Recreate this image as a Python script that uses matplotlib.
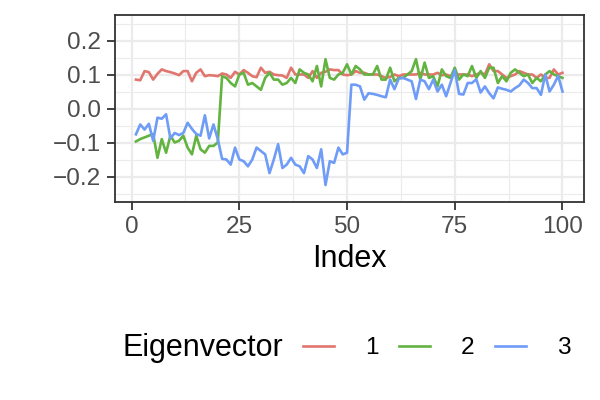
import numpy as np
import matplotlib
matplotlib.use("Agg")
import matplotlib.pyplot as plt
from matplotlib.lines import Line2D

plt.rcParams['font.family'] = ['Liberation Sans', 'DejaVu Sans']

index = np.arange(1, 101)

ev1 = [0.085, 0.083, 0.110, 0.107, 0.085, 0.102, 0.115, 0.110, 0.107, 0.103,
       0.098, 0.110, 0.110, 0.080, 0.105, 0.115, 0.095, 0.098, 0.097, 0.095,
       0.103, 0.100, 0.090, 0.108, 0.100, 0.113, 0.105, 0.095, 0.092, 0.120,
       0.105, 0.108, 0.100, 0.098, 0.097, 0.090, 0.120, 0.100, 0.100, 0.100,
       0.090, 0.110, 0.090, 0.105, 0.108, 0.115, 0.113, 0.113, 0.100, 0.098,
       0.100, 0.110, 0.105, 0.105, 0.100, 0.100, 0.100, 0.095, 0.090, 0.093,
       0.100, 0.095, 0.100, 0.100, 0.100, 0.100, 0.105, 0.100, 0.100, 0.100,
       0.105, 0.098, 0.100, 0.095, 0.100, 0.100, 0.100, 0.100, 0.095, 0.100,
       0.105, 0.100, 0.130, 0.110, 0.110, 0.100, 0.090, 0.095, 0.100, 0.110,
       0.105, 0.100, 0.100, 0.090, 0.100, 0.090, 0.090, 0.115, 0.100, 0.105]

ev2 = [-0.097, -0.090, -0.085, -0.080, -0.075, -0.145, -0.090, -0.130, -0.080, -0.100,
       -0.095, -0.080, -0.115, -0.135, -0.080, -0.120, -0.130, -0.110, -0.110, -0.100,
       0.095, 0.090, 0.075, 0.065, 0.100, 0.105, 0.070, 0.075, 0.065, 0.055,
       0.090, 0.105, 0.085, 0.085, 0.070, 0.075, 0.090, 0.075, 0.115, 0.105,
       0.100, 0.080, 0.125, 0.065, 0.145, 0.090, 0.085, 0.100, 0.105, 0.130,
       0.100, 0.125, 0.115, 0.100, 0.100, 0.100, 0.125, 0.085, 0.085, 0.120,
       0.080, 0.090, 0.090, 0.100, 0.110, 0.145, 0.085, 0.135, 0.090, 0.095,
       0.065, 0.115, 0.095, 0.090, 0.120, 0.085, 0.100, 0.095, 0.125, 0.090,
       0.110, 0.090, 0.120, 0.120, 0.075, 0.095, 0.080, 0.105, 0.115, 0.105,
       0.095, 0.100, 0.075, 0.090, 0.080, 0.100, 0.110, 0.100, 0.095, 0.090]

ev3 = [-0.076, -0.047, -0.062, -0.045, -0.095, -0.027, -0.030, -0.017, -0.088, -0.072,
       -0.078, -0.072, -0.042, -0.060, -0.075, -0.080, -0.020, -0.088, -0.047, -0.090,
       -0.148, -0.150, -0.165, -0.115, -0.150, -0.155, -0.170, -0.150, -0.115, -0.125,
       -0.135, -0.190, -0.150, -0.105, -0.175, -0.165, -0.145, -0.165, -0.170, -0.190,
       -0.140, -0.150, -0.175, -0.120, -0.225, -0.155, -0.160, -0.115, -0.135, -0.130,
       0.070, 0.070, 0.065, 0.026, 0.045, 0.043, 0.040, 0.036, 0.033, 0.085,
       0.057, 0.088, 0.090, 0.085, 0.080, 0.028, 0.085, 0.080, 0.057, 0.085,
       0.050, 0.070, 0.036, 0.075, 0.113, 0.043, 0.041, 0.075, 0.075, 0.086,
       0.047, 0.065, 0.045, 0.030, 0.062, 0.058, 0.055, 0.050, 0.060, 0.068,
       0.085, 0.075, 0.060, 0.060, 0.040, 0.100, 0.050, 0.070, 0.096, 0.050]

labels = ['1', '2', '3']
colors = ['#E0766D', '#62B340', '#6E9CF7']

fig = plt.figure(figsize=(6, 4), dpi=100)
ax = fig.add_axes([0.191, 0.495, 0.782, 0.4675])

for ys, c in zip([ev1, ev2, ev3], colors):
    ax.plot(index, ys, color=c, lw=1.9)

ax.set_xlim(-3.95, 104.95)
ax.set_ylim(-0.275, 0.275)
ax.set_xticks([0, 25, 50, 75, 100])
ax.set_xticks([12.5, 37.5, 62.5, 87.5], minor=True)
ax.set_yticks([-0.2, -0.1, 0.0, 0.1, 0.2])
ax.set_yticks([-0.25, -0.15, -0.05, 0.05, 0.15, 0.25], minor=True)
ax.set_yticklabels(['\u22120.2', '\u22120.1', '0.0', '0.1', '0.2'])
ax.grid(which='major', color='#EBEBEB', lw=1.6)
ax.grid(which='minor', color='#EBEBEB', lw=0.8)
ax.set_axisbelow(True)
for s in ax.spines.values():
    s.set_color('#333333')
    s.set_linewidth(1.3)
ax.tick_params(which='major', length=5.5, width=1.3, color='#333333',
               labelsize=17.6, labelcolor='#4D4D4D', pad=4.5)
ax.tick_params(which='minor', length=0)
ax.set_xlabel('Index', fontsize=22, labelpad=4.5)

# legend: title on the left, keys in one row
fig.text(0.205, 0.13, 'Eigenvector', fontsize=22, va='center', ha='left')
handles = [Line2D([], [], color=c, lw=1.9) for c in colors]
fig.legend(handles, labels, loc='center left', bbox_to_anchor=(0.505, 0.13),
           ncol=3, frameon=False, fontsize=17.6, handlelength=1.27,
           handletextpad=1.27, columnspacing=0.82, borderpad=0, borderaxespad=0)

fig.savefig('out.png', dpi=100)
